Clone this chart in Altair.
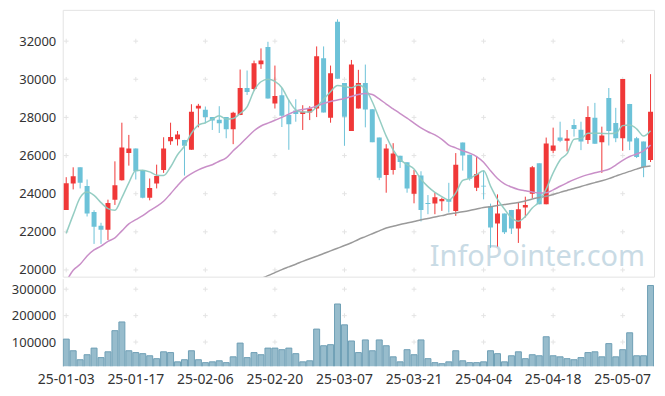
import altair as alt
import pandas as pd

dates = [
    "25-01-03","25-01-06","25-01-07","25-01-08","25-01-09","25-01-10","25-01-13","25-01-14","25-01-15","25-01-16",
    "25-01-17","25-01-20","25-01-21","25-01-22","25-01-23","25-01-24","25-01-31","25-02-03","25-02-04","25-02-05",
    "25-02-06","25-02-07","25-02-10","25-02-11","25-02-12","25-02-13","25-02-14","25-02-17","25-02-18","25-02-19",
    "25-02-20","25-02-21","25-02-24","25-02-25","25-02-26","25-02-27","25-02-28","25-03-04","25-03-05","25-03-06",
    "25-03-07","25-03-10","25-03-11","25-03-12","25-03-13","25-03-14","25-03-17","25-03-18","25-03-19","25-03-20",
    "25-03-21","25-03-24","25-03-25","25-03-26","25-03-27","25-03-28","25-03-31","25-04-01","25-04-02","25-04-03",
    "25-04-04","25-04-07","25-04-08","25-04-09","25-04-10","25-04-11","25-04-14","25-04-15","25-04-16","25-04-17",
    "25-04-18","25-04-21","25-04-22","25-04-23","25-04-24","25-04-25","25-04-28","25-04-29","25-04-30","25-05-02",
    "25-05-07","25-05-08","25-05-09","25-05-12","25-05-13",
]

opens = [23150,24536,25384,24397,23046,22319,22111,23687,24709,26129,
         26371,25246,23791,24536,25246,26753,26857,26822,26302,28467,
         28398,28017,27878,28017,27376,28121,29541,29489,30788,31689,
         28727,29160,28121,28363,28173,28259,28467,31100,27982,33022,
         29801,27289,28467,29801,28433,26943,24986,25246,25990,25644,
         23999,24951,23514,23479,23600,23722,23098,26683,26043,24310,
         24414,23358,22440,22960,23150,22180,23271,23999,25592,23444,
         26250,26943,26770,27601,27359,26822,27982,26701,29022,27705,
         26908,28710,26908,26735,25765]
highs = [24865,25384,25384,24744,23133,22474,23687,25696,27723,27082,
         26371,25246,24796,25523,26960,27723,27290,26822,28692,28710,
         28571,28017,28588,28017,28294,30511,30459,30979,31619,31966,
         30719,29541,28900,28952,28640,28588,31723,31723,30719,33144,
         29801,31013,30494,30771,28433,26943,26597,26649,25990,25644,
         25246,25176,23929,24051,23791,24570,26129,26683,26043,25956,
         25211,23479,23964,22960,23150,23531,23843,25454,25592,26943,
         27463,27775,27341,27913,27775,28588,28762,27515,29541,28502,
         30009,28710,26978,26735,30269]
lows = [23150,24224,24276,22804,21366,21366,21574,23410,24691,25471,
        24744,23756,23652,24276,25090,26562,26527,24951,26302,27480,
        27688,27341,27185,26908,26597,28121,29177,29402,30546,28987,
        28467,27497,26302,27774,27341,27861,28017,28259,27723,30026,
        26510,27289,28467,27480,26701,24709,24051,25003,25350,24051,
        23496,22544,22925,22925,23098,23012,22838,25211,24691,24137,
        23704,21158,21228,21886,21886,21418,22752,23756,23444,23444,
        26129,26701,26216,26995,26285,26614,26614,25090,26527,26701,
        26250,26285,25869,24865,25661]
closes = [24553,24917,24570,22960,22267,22111,23514,24449,26424,26371,
          25176,23791,24293,24934,26371,26978,27099,26510,28294,28606,
          28017,27844,27688,27376,28242,29541,29333,30840,30979,28987,
          29125,28086,27636,28173,28294,28467,31204,28259,30320,30026,
          28034,30771,29801,28415,26701,24830,26371,26112,25661,24276,
          24986,23150,23462,23808,23722,23583,25523,26008,24778,25038,
          24380,22232,22960,21972,22180,23185,23410,25384,23444,26632,
          26527,26770,26891,27393,26735,28017,26614,27047,27289,26908,
          30009,26735,25921,25402,28294]
volumes = [111,67,33,52,77,41,63,143,176,67,
           60,56,48,37,63,60,25,33,67,33,
           22,25,29,22,44,96,41,60,52,77,
           77,71,77,56,25,29,149,86,90,244,
           165,104,60,108,67,108,86,44,25,71,
           52,108,37,22,18,25,67,29,22,22,
           25,67,56,25,48,63,37,52,48,120,
           48,44,37,33,41,60,63,44,94,44,
           71,135,48,48,314]
ma5 = [21920,22890,23790,24085,23912,23531,23220,23133,23791,24570,
       25211,25229,25142,24969,24950,25400,26043,26500,27168,27601,
       27722,27913,28086,27913,27948,28207,28554,29400,29870,30000,
       29890,29555,28900,28400,28280,28280,28550,28950,29350,29670,
       29630,29555,29700,29500,28820,27930,27020,26300,25800,25525,
       25300,24760,24370,24070,23850,23670,24040,24700,24800,25000,
       25200,24400,23700,23200,22730,22560,22800,23250,23580,24250,
       25090,25770,26100,26860,26890,27165,27170,27160,27150,27180,
       27570,27600,27400,27020,27300]
ma20 = [19400,19980,20294,20737,21050,21250,21500,21680,22050,22420,
        22640,22850,23110,23330,23600,24000,24420,24800,25050,25250,
        25400,25520,25700,25880,26250,26580,26950,27300,27550,27700,
        27850,28000,28170,28330,28420,28480,28600,28730,28830,28910,
        28990,29100,29200,29250,29200,28970,28700,28450,28200,27960,
        27700,27450,27250,27080,26850,26550,26400,26250,26130,25950,
        25650,25200,24800,24520,24350,24224,24150,24090,24035,24050,
        24200,24390,24570,24740,24880,25000,25100,25180,25280,25500,
        25750,25950,26080,26250,26550]
ma_long_start = 28
ma_long = [19550,19700,19860,20020,20160,20300,20450,20590,20720,20860,
           21000,21140,21280,21430,21600,21750,21900,22050,22200,22290,
           22380,22460,22540,22630,22700,22780,22850,22930,22990,23050,
           23120,23200,23280,23320,23380,23430,23480,23540,23620,23720,
           23800,23870,23960,24070,24170,24270,24380,24480,24580,24680,
           24790,24920,25050,25170,25290,25400,25450]

price_ticks = [20000, 22000, 24000, 26000, 28000, 30000, 32000]
volume_ticks = [100000, 200000, 300000]
label_dates = dates[::10]
watermark = "InfoPointer.com"

UP = "#f03838"
DOWN = "#6cc2d8"
FONT = "Noto Sans"
W = 594
H_TOP = 268
H_BOT = 88

df = pd.DataFrame({"date": dates, "open": opens, "high": highs, "low": lows,
                   "close": closes, "volume": [v * 1000 for v in volumes],
                   "ma5": ma5, "ma20": ma20})
df_long = pd.DataFrame({"date": dates[ma_long_start:], "ma": ma_long})
grid_top = pd.DataFrame([(d, p) for d in label_dates for p in price_ticks], columns=["date", "v"])
grid_bot = pd.DataFrame([(d, v) for d in label_dates for v in volume_ticks], columns=["date", "v"])

xscale = alt.Scale(type="band", domain=dates, paddingInner=0, paddingOuter=0)
pscale = alt.Scale(domain=[19650, 33640], zero=False, nice=False)
vscale = alt.Scale(domain=[8400, 340000], zero=False, nice=False)

x_top = alt.X("date:O", scale=xscale, axis=None)
ycol = alt.condition("datum.close >= datum.open", alt.value(UP), alt.value(DOWN))

cross_shape = "M -1 0 L 1 0 M 0 -1 L 0 1"

base = alt.Chart(df)

top_grid = alt.Chart(grid_top).mark_point(shape=cross_shape, size=22, filled=False,
                                          stroke="#d9d9d9", strokeWidth=1).encode(
    x=x_top,
    y=alt.Y("v:Q", scale=pscale,
            axis=alt.Axis(values=price_ticks, format="d", domain=False, ticks=False, grid=False,
                          labelPadding=7, minExtent=54, maxExtent=54, title=None)),
)

wm = alt.Chart(pd.DataFrame({"t": [watermark]})).mark_text(
    align="right", baseline="alphabetic", fontSize=29, font=FONT, color="#c9dbe5"
).encode(x=alt.value(585), y=alt.value(257), text="t:N")

long_line = alt.Chart(df_long).mark_line(color="#9a9a9a", strokeWidth=1.5, interpolate="monotone",
                                         clip=True).encode(
    x=x_top, y=alt.Y("ma:Q", scale=pscale))
l20 = base.mark_line(color="#c98fc8", strokeWidth=1.5, interpolate="monotone", clip=True).encode(
    x=x_top, y=alt.Y("ma20:Q", scale=pscale))
l5 = base.mark_line(color="#8fcac0", strokeWidth=1.5, interpolate="monotone", clip=True,
                    opacity=0.95).encode(
    x=x_top, y=alt.Y("ma5:Q", scale=pscale))

wick = base.mark_rule(strokeWidth=1, clip=True).encode(
    x=x_top, y=alt.Y("low:Q", scale=pscale), y2="high:Q", color=ycol)
body = base.mark_bar(size=5, clip=True).encode(
    x=x_top, y=alt.Y("open:Q", scale=pscale), y2="close:Q", color=ycol)

top = alt.layer(top_grid, wm, wick, body, long_line, l20, l5).properties(
    width=W, height=H_TOP, view=alt.ViewBackground(stroke="#e3e3e3", strokeWidth=1))

x_bot = alt.X("date:O", scale=xscale,
              axis=alt.Axis(values=label_dates, labelAngle=0, ticks=False, domain=False, grid=False,
                            labelPadding=6, labelOverlap=False, labelFontSize=14, title=None))

bot_grid = alt.Chart(grid_bot).mark_point(shape=cross_shape, size=22, filled=False,
                                          stroke="#d9d9d9", strokeWidth=1).encode(
    x=x_bot,
    y=alt.Y("v:Q", scale=vscale,
            axis=alt.Axis(values=volume_ticks, format="d", domain=True, domainColor="#e3e3e3",
                          ticks=False, grid=False, labelPadding=7, minExtent=54, maxExtent=54,
                          title=None)),
)
vol = base.mark_bar(size=6, fill="#97bccc", stroke="#6f9fb5", strokeWidth=1, clip=True).encode(
    x=x_bot, y=alt.Y("volume:Q", scale=vscale), y2=alt.value(H_BOT))

bottom = alt.layer(bot_grid, vol).properties(
    width=W, height=H_BOT, view=alt.ViewBackground(stroke="transparent"))

chart = alt.vconcat(top, bottom, spacing=0).properties(
    padding={"left": 0, "top": 0, "right": 2, "bottom": 0}
).configure_axis(
    labelFont=FONT, labelFontSize=13, labelColor="#333333"
).configure_view(stroke="transparent")

chart.save("out.html", embed_options={"renderer": "svg", "actions": False})
